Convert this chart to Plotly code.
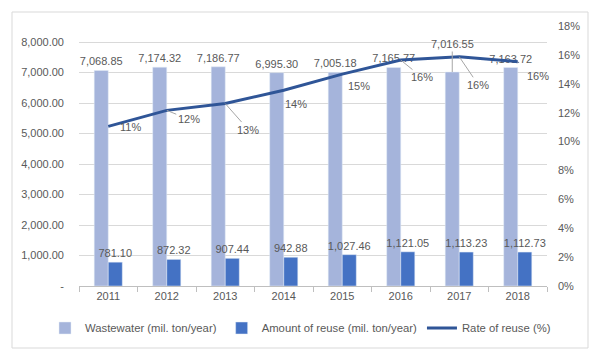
import plotly.graph_objects as go

years = ["2011", "2012", "2013", "2014", "2015", "2016", "2017", "2018"]
wastewater = [7068.85, 7174.32, 7186.77, 6995.30, 7005.18, 7165.77, 7016.55, 7163.72]
reuse = [781.10, 872.32, 907.44, 942.88, 1027.46, 1121.05, 1113.23, 1112.73]
rate = [11.05, 12.16, 12.63, 13.55, 14.67, 15.64, 15.87, 15.53]
rate_labels = ["11%", "12%", "13%", "14%", "15%", "16%", "16%", "16%"]

left_ticks = [0, 1000, 2000, 3000, 4000, 5000, 6000, 7000, 8000]
left_ticktext = ["-"] + [f"{v:,.2f}" for v in left_ticks[1:]]
right_ticks = [0, 2, 4, 6, 8, 10, 12, 14, 16, 18]
right_ticktext = [f"{v}%" for v in right_ticks]

FONT = "Liberation Sans, Arial, sans-serif"
TXT = "#595959"
C_WW = "#A5B4DB"
C_RE = "#4472C4"
C_LINE = "#2F5597"

# label offsets (pixels) for the rate labels, and whether a leader line is drawn
rate_off = [(22, 1), (22, 9), (23, 26), (12, 14), (17, 12), (21, 17), (19, 28), (20, 14)]
rate_leader = [False, True, True, False, False, True, True, False]

ww_text = [f"{v:,.2f}" for v in wastewater]
ww_text_shown = [t if y != "2017" else "" for t, y in zip(ww_text, years)]

# page body has an 8px margin; plot area spans x 79..547, y 26..286 in the window
W, H = 585, 342
ML, MT = 71, 18
PW, PH = 468, 260

fig = go.Figure()
fig.add_trace(go.Bar(
    x=years, y=wastewater, name="Wastewater (mil. ton/year)",
    marker_color=C_WW, text=ww_text_shown, textposition="outside", constraintext="none",
    textfont=dict(size=11, color=TXT, family=FONT), cliponaxis=False,
))
fig.add_trace(go.Bar(
    x=years, y=reuse, name="Amount of reuse (mil. ton/year)",
    marker_color=C_RE, text=[f"{v:,.2f}" for v in reuse], textposition="outside",
    constraintext="none",
    textfont=dict(size=11, color=TXT, family=FONT), cliponaxis=False,
))
fig.add_trace(go.Scatter(
    x=years, y=rate, name="Rate of reuse (%)", yaxis="y2",
    mode="lines", line=dict(color=C_LINE, width=3),
))

annotations = []
for i, (r, lab, (dx, dy), lead) in enumerate(zip(rate, rate_labels, rate_off, rate_leader)):
    annotations.append(dict(
        x=i, y=r, xref="x", yref="y2", text=lab, showarrow=True,
        ax=dx, ay=dy, arrowhead=0, arrowwidth=1, standoff=0,
        arrowcolor="#A6A6A6" if lead else "rgba(0,0,0,0)",
        font=dict(size=11, color=TXT, family=FONT),
    ))
# moved wastewater label for 2017 with leader line
i17 = years.index("2017")
annotations.append(dict(
    x=i17, y=wastewater[i17], xref="x", yref="y", text=ww_text[i17],
    showarrow=True, ax=0, ay=-28, arrowhead=0, arrowwidth=1, arrowcolor="#A6A6A6",
    xshift=-7, standoff=0, font=dict(size=11, color=TXT, family=FONT),
))

fig.update_layout(
    width=W, height=H,
    margin=dict(l=ML, r=W - ML - PW, t=MT, b=H - MT - PH, autoexpand=False),
    paper_bgcolor="white", plot_bgcolor="white",
    font=dict(family=FONT, size=11, color=TXT),
    barmode="group", bargap=0.52, bargroupgap=0,
    xaxis=dict(type="category", range=[-0.5, len(years) - 0.5], autorange=False,
               showline=True, linecolor="#BFBFBF", linewidth=1,
               ticks="outside", tickson="boundaries", ticklen=5, tickcolor="#BFBFBF",
               tickfont=dict(size=11, color=TXT), showgrid=False, tickangle=0,
               automargin=False),
    yaxis=dict(range=[0, 8525], autorange=False, tickvals=left_ticks, ticktext=left_ticktext,
               showgrid=True, gridcolor="#D9D9D9", gridwidth=1, zeroline=False,
               tickfont=dict(size=11, color=TXT), ticklabelstandoff=14, automargin=False),
    yaxis2=dict(range=[0, 18], autorange=False, overlaying="y", side="right", tickvals=right_ticks,
                ticktext=right_ticktext, showgrid=False, zeroline=False,
                tickfont=dict(size=11, color=TXT), ticklabelstandoff=10, automargin=False),
    legend=dict(orientation="h", xref="paper", yref="paper",
                x=(45 - 79) / PW, xanchor="left", y=(286 - 328) / PH, yanchor="middle",
                itemwidth=30, tracegroupgap=0,
                font=dict(size=11.3, color=TXT), traceorder="normal"),
    annotations=annotations,
    shapes=[dict(type="rect", xref="paper", yref="paper",
                 x0=(12 - 79) / PW, x1=(588 - 79) / PW,
                 y0=-(348 - 286) / PH, y1=1 + (26 - 12) / PH,
                 line=dict(color="#D9D9D9", width=1), fillcolor="rgba(0,0,0,0)",
                 layer="below")],
)

fig.write_html("out.html")
